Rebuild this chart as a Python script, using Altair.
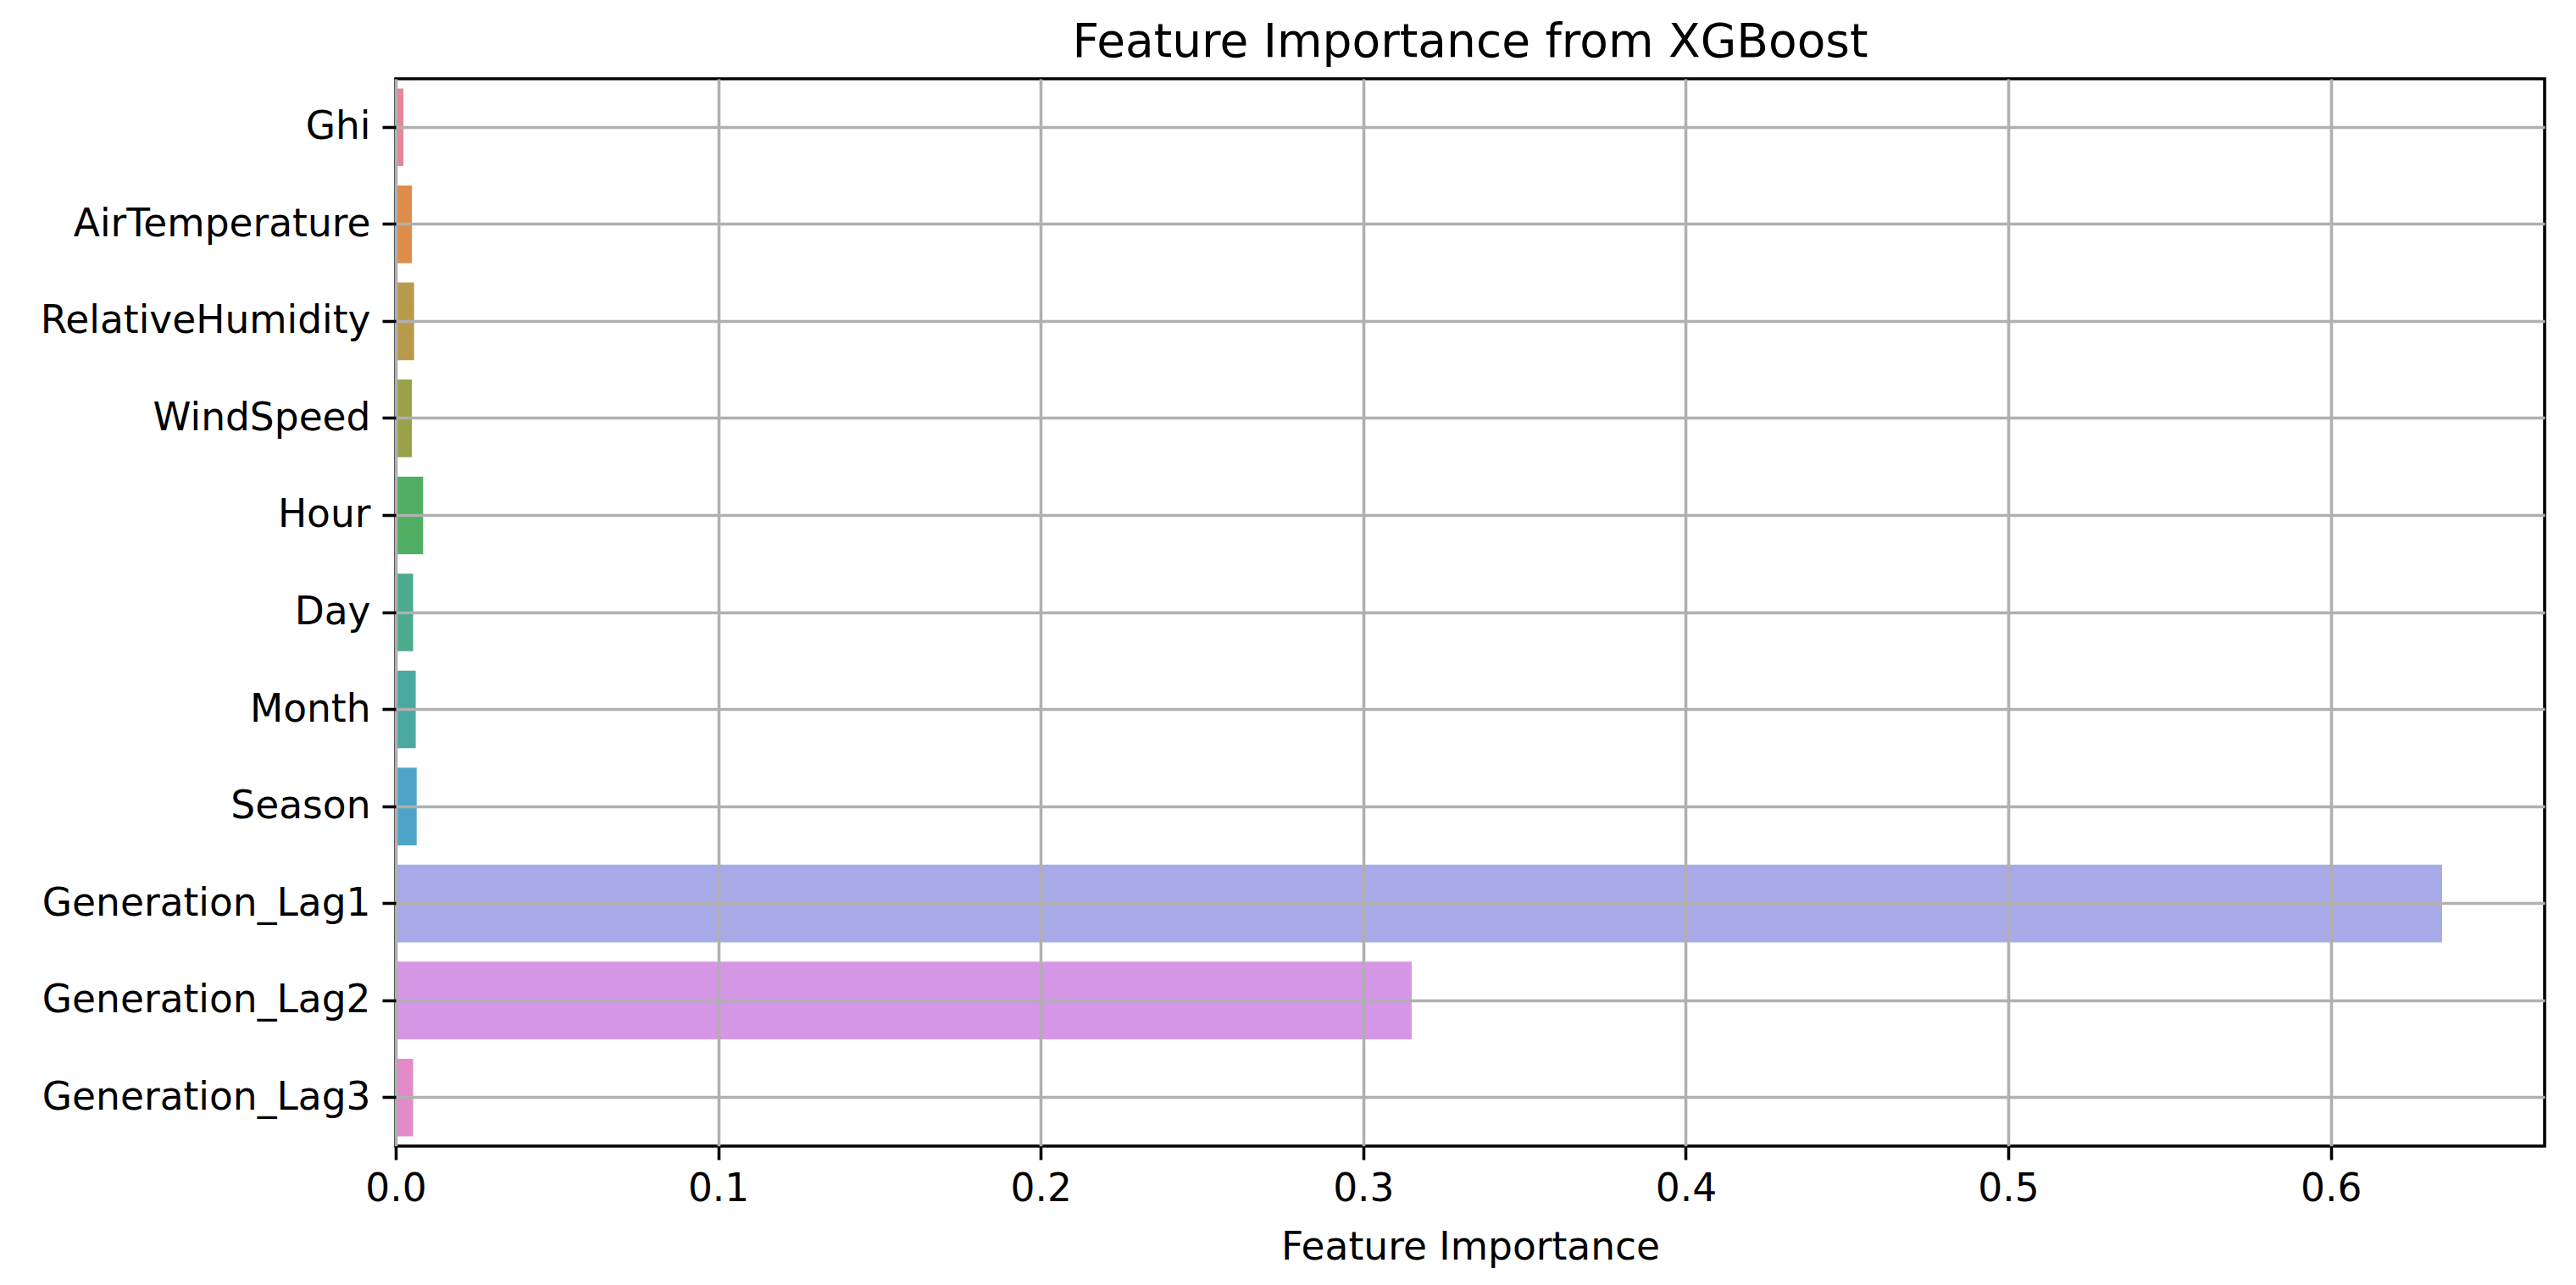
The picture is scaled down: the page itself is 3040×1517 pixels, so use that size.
import altair as alt
import pandas as pd

features = ["Ghi", "AirTemperature", "RelativeHumidity", "WindSpeed", "Hour", "Day",
            "Month", "Season", "Generation_Lag1", "Generation_Lag2", "Generation_Lag3"]
importance = [0.0024, 0.0050, 0.0057, 0.0050, 0.0085, 0.0054, 0.0062, 0.0065,
              0.6345, 0.3150, 0.0054]
colors = ["#e5879a", "#dd8c4a", "#b79a4a", "#99a24a", "#4fae62", "#4aab8d",
          "#4ba8a2", "#4ea4c8", "#a8aae8", "#d596e6", "#e38bc8"]
x_ticks = [0.0, 0.1, 0.2, 0.3, 0.4, 0.5, 0.6]

df = pd.DataFrame({"feature": features, "importance": importance})

FONT = "DejaVu Sans"
LW = 3.6
FS = 45.5

chart = alt.Chart(df).mark_bar().encode(
    x=alt.X("importance:Q",
            scale=alt.Scale(domain=[0, 0.6663], nice=False, zero=True),
            axis=alt.Axis(title="Feature Importance", values=x_ticks, format=".1f",
                          grid=True, gridColor="#b0b0b0", gridWidth=LW,
                          labelFlush=False,
                          tickColor="black", tickWidth=LW, tickSize=16,
                          labelPadding=12, labelFontSize=FS, labelColor="black",
                          labelFont=FONT, titleFont=FONT, titleFontSize=FS,
                          titleFontWeight="normal", titleColor="black",
                          titlePadding=24, domain=False, zindex=1)),
    y=alt.Y("feature:N", sort=features,
            scale=alt.Scale(paddingInner=0.2, paddingOuter=0.1),
            axis=alt.Axis(title=None, grid=True, gridColor="#b0b0b0", gridWidth=LW,
                          bandPosition=0.5, labelLimit=800,
                          tickColor="black", tickWidth=LW, tickSize=16,
                          labelPadding=14, labelFontSize=FS, labelColor="black",
                          labelFont=FONT, domain=False, zindex=1)),
    color=alt.Color("feature:N", scale=alt.Scale(domain=features, range=colors),
                    legend=None),
).properties(
    width=2536,
    height=1260,
    title=alt.TitleParams("Feature Importance from XGBoost", font=FONT, fontSize=55,
                          fontWeight="normal", color="black", anchor="middle",
                          offset=14),
    autosize=alt.AutoSizeParams(type="none"),
    padding={"left": 459, "top": 85, "right": 20, "bottom": 160},
).configure(
    background="white"
).configure_view(
    stroke="black", strokeWidth=LW
)

chart.save("out.html", embed_options={"renderer": "svg", "actions": False})
